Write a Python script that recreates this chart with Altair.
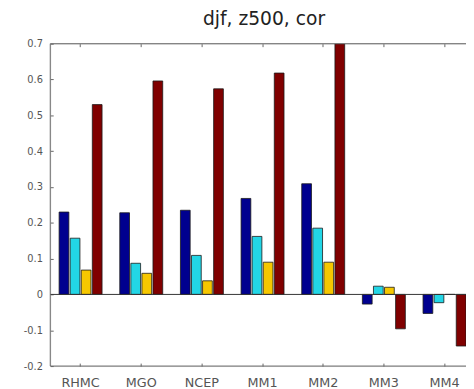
import altair as alt
import pandas as pd

categories = ["RHMC", "MGO", "NCEP", "MM1", "MM2", "MM3", "MM4"]
series = ["s1", "s2", "s3", "s4"]
s1 = [0.230, 0.228, 0.235, 0.268, 0.309, -0.027, -0.053]
s2 = [0.157, 0.087, 0.109, 0.162, 0.185, 0.023, -0.023]
s3 = [0.068, 0.059, 0.038, 0.090, 0.090, 0.020, 0.000]
s4 = [0.530, 0.596, 0.574, 0.618, 0.700, -0.096, -0.144]
colors = ["#00008f", "#22d6e6", "#f6c700", "#800000"]
y_ticks = [-0.2, -0.1, 0, 0.1, 0.2, 0.3, 0.4, 0.5, 0.6, 0.7]
title_text = "djf, z500, cor"

rows = []
for name, vals in zip(series, [s1, s2, s3, s4]):
    for c, v in zip(categories, vals):
        rows.append({"cat": c, "series": name, "value": v})
df = pd.DataFrame(rows)
one = pd.DataFrame({"a": [0]})

W, H = 423, 328
FONT = "DejaVu Sans"
AX = "#666666"

xscale = alt.Scale(domain=categories, range=[0, 432], paddingInner=0, paddingOuter=0)
yscale = alt.Scale(domain=[-0.2, 0.7], nice=False, zero=False)
yaxis = alt.Axis(values=y_ticks, domain=False, grid=False, ticks=True, tickSize=3,
                 offset=-3, tickColor=AX, labelPadding=8, labelFont=FONT,
                 labelFontSize=10, labelColor="#555555", labelOverlap=False,
                 labelFlush=False,
                 labelExpr="datum.value < 0 ? '-' + format(-datum.value, '.1~f') : format(datum.value, '.1~f')")

bars = alt.Chart(df).mark_bar(stroke="#1a1a1a", strokeWidth=0.8, clip=True).encode(
    x=alt.X("cat:N", sort=categories, scale=xscale, title=None,
            axis=alt.Axis(orient="bottom", domain=False, ticks=True, tickSize=3, offset=-3,
                          tickColor=AX, labelPadding=11, labelFont=FONT, labelFontSize=13,
                          labelColor="#555555", labelAngle=0, labelOverlap=False)),
    xOffset=alt.XOffset("series:N", sort=series,
                        scale=alt.Scale(domain=series, paddingInner=0.12, paddingOuter=0.8)),
    y=alt.Y("value:Q", scale=yscale, title=None, axis=yaxis),
    color=alt.Color("series:N", scale=alt.Scale(domain=series, range=colors), legend=None),
)

top_ticks = alt.Chart(df).mark_bar(opacity=0).encode(
    x=alt.X("cat:N", sort=categories, scale=xscale, title=None,
            axis=alt.Axis(orient="top", labels=False, domain=False, ticks=True, tickSize=3,
                          offset=-3, tickColor=AX)),
)

zero_line = alt.Chart(one).mark_rule(color="#333333", strokeWidth=1).encode(
    y=alt.YDatum(0, scale=yscale, axis=yaxis, title=None))

left_line = alt.Chart(one).mark_rule(color=AX, strokeWidth=1).encode(
    x=alt.value(0), y=alt.value(0), y2=alt.value(H))
top_line = alt.Chart(one).mark_rule(color=AX, strokeWidth=1).encode(
    x=alt.value(0), x2=alt.value(W + 20), y=alt.value(0))
bottom_line = alt.Chart(one).mark_rule(color=AX, strokeWidth=1).encode(
    x=alt.value(0), x2=alt.value(W + 20), y=alt.value(H))

chart = alt.layer(bars, top_ticks, zero_line, left_line, top_line, bottom_line).properties(
    width=W, height=H,
    title=alt.Title(title_text, fontSize=19, font=FONT, fontWeight="normal", color="#222222",
                    offset=10, anchor="middle", dx=6),
    autosize=alt.AutoSizeParams(type="none"),
    padding={"left": 43, "top": 33, "right": 0, "bottom": 20},
).configure_view(stroke=None).configure(background="white")

chart.save("out.html", embed_options={"renderer": "svg", "actions": False})
